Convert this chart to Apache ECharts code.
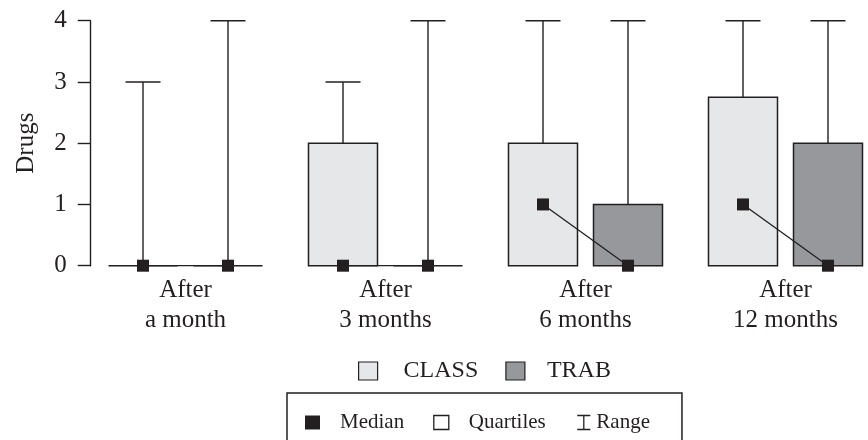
<!DOCTYPE html>
<html>
<head>
<meta charset="utf-8">
<script src="https://cdn.jsdelivr.net/npm/echarts@6/dist/echarts.min.js"></script>
<style>
  html, body { margin: 0; padding: 0; background: #fff; }
  #drugs-chart { width: 868px; height: 440px; }
</style>
</head>
<body>
<div id="drugs-chart"></div>
<script>
var categories = ['After\na month', 'After\n3 months', 'After\n6 months', 'After\n12 months'];
var yTicks = [0, 1, 2, 3, 4];

/* CLASS: quartiles, median and range per period */
var class_q1 = [0, 0, 0, 0];
var class_median = [0, 0, 1, 1];
var class_q3 = [0, 2, 2, 2.75];
var class_max = [3, 3, 4, 4];

/* TRAB */
var trab_q1 = [0, 0, 0, 0];
var trab_median = [0, 0, 0, 0];
var trab_q3 = [0, 0, 1, 2];
var trab_max = [4, 4, 4, 4];

var ink = '#231f20';
var font = "'Liberation Serif', 'Times New Roman', serif";
var class_color = '#e6e7e8';
var trab_color = '#97989b';

var drugs_chart = echarts.init(document.getElementById('drugs-chart'));

function build_rows(q1, q3, max)
{
    return categories.map(function (c, i) { return [i, q1[i], q3[i], max[i]]; });
}

function box_renderer(shift, fill)
{
    return function (params, api) {
        var i = api.value(0);
        var band = api.size([1, 0])[0];
        var cx = api.coord([i, 0])[0] + shift * band;
        var yq1 = api.coord([i, api.value(1)])[1];
        var yq3 = api.coord([i, api.value(2)])[1];
        var ymax = api.coord([i, api.value(3)])[1];
        var w = band * 0.345;
        var cap = band * 0.175;
        return {
            type: 'group',
            children: [
                { type: 'line', shape: { x1: cx, y1: yq3, x2: cx, y2: ymax },
                  style: { stroke: ink, lineWidth: 1.4 } },
                { type: 'line', shape: { x1: cx - cap / 2, y1: ymax, x2: cx + cap / 2, y2: ymax },
                  style: { stroke: ink, lineWidth: 1.4 } },
                { type: 'rect', shape: { x: cx - w / 2, y: yq3, width: w, height: yq1 - yq3 },
                  style: { fill: fill, stroke: ink, lineWidth: 1.5 } }
            ]
        };
    };
}

function median_renderer(params, api)
{
    var i = api.value(0);
    var band = api.size([1, 0])[0];
    var c = api.coord([i, api.value(1)]);
    var t = api.coord([i, api.value(2)]);
    var x1 = c[0] - 0.2125 * band;
    var x2 = t[0] + 0.2125 * band;
    var s = 12;
    return {
        type: 'group',
        children: [
            { type: 'line', shape: { x1: x1, y1: c[1], x2: x2, y2: t[1] },
              style: { stroke: ink, lineWidth: 1.3 } },
            { type: 'rect', shape: { x: x1 - s / 2, y: c[1] - s / 2, width: s, height: s },
              style: { fill: ink } },
            { type: 'rect', shape: { x: x2 - s / 2, y: t[1] - s / 2, width: s, height: s },
              style: { fill: ink } }
        ]
    };
}

var median_rows = categories.map(function (c, i) { return [i, class_median[i], trab_median[i]]; });

var echarts_options = {
    animation: false,
    textStyle: { fontFamily: font, color: ink },
    grid: {
        left: 85.5,
        width: 800,
        top: 20.7,
        height: 245,
        outerBoundsMode: 'none',
        containLabel: false
    },
    legend: [
        {
            left: 358,
            top: 359,
            padding: 0,
            itemWidth: 19,
            itemHeight: 18,
            itemGap: 27,
            selectedMode: false,
            textStyle: { fontFamily: font, fontSize: 24, color: ink },
            data: [
                { name: 'CLASS', icon: 'rect',
                  itemStyle: { color: class_color, borderColor: ink, borderWidth: 1.2 },
                  textStyle: { padding: [0, 0, 0, 21] } },
                { name: 'TRAB', icon: 'rect',
                  itemStyle: { color: trab_color, borderColor: ink, borderWidth: 1.2 },
                  textStyle: { padding: [0, 0, 0, 17] } }
            ]
        },
        {
            left: 287,
            top: 393,
            borderColor: ink,
            borderWidth: 1.5,
            borderRadius: 0,
            padding: [19, 32, 40, 18],
            itemWidth: 15,
            itemHeight: 14,
            itemGap: 29,
            selectedMode: false,
            textStyle: { fontFamily: font, fontSize: 21, color: ink },
            data: [
                { name: 'Median', icon: 'rect',
                  itemStyle: { color: ink, borderWidth: 0 },
                  textStyle: { padding: [0, 0, 0, 15] } },
                { name: 'Quartiles', icon: 'rect',
                  itemStyle: { color: '#fff', borderColor: ink, borderWidth: 1.3 },
                  textStyle: { padding: [0, 0, 0, 15] } },
                { name: 'Range', icon: 'path://M0,0 L14,0 M7,0 L7,15 M0,15 L14,15',
                  itemStyle: { color: 'none', borderColor: ink, borderWidth: 1.3 },
                  textStyle: { padding: [0, 0, 0, 0] } }
            ]
        }
    ],
    xAxis: {
        type: 'category',
        data: categories,
        axisLine: { show: false },
        axisTick: { show: false },
        axisLabel: {
            margin: 10,
            fontFamily: font,
            fontSize: 25,
            lineHeight: 30,
            color: ink
        }
    },
    yAxis: {
        type: 'value',
        min: 0,
        max: 4,
        interval: 1,
        offset: -5.2,
        name: 'Drugs',
        nameLocation: 'middle',
        nameRotate: 90,
        nameGap: 52,
        nameTextStyle: { fontFamily: font, fontSize: 25, color: ink },
        axisLine: { show: true, lineStyle: { color: ink, width: 1.4 } },
        axisTick: { show: true, length: 13, lineStyle: { color: ink, width: 1.4 } },
        axisLabel: {
            margin: 24,
            fontFamily: font,
            fontSize: 25,
            color: ink,
            formatter: function (v) { return yTicks.indexOf(v) >= 0 ? String(v) : ''; }
        },
        splitLine: { show: false }
    },
    series: [
        {
            name: 'CLASS',
            type: 'custom',
            itemStyle: { color: class_color },
            renderItem: box_renderer(-0.2125, class_color),
            encode: { x: 0, y: [1, 2, 3] },
            data: build_rows(class_q1, class_q3, class_max)
        },
        {
            name: 'TRAB',
            type: 'custom',
            itemStyle: { color: trab_color },
            renderItem: box_renderer(0.2125, trab_color),
            encode: { x: 0, y: [1, 2, 3] },
            data: build_rows(trab_q1, trab_q3, trab_max)
        },
        {
            name: 'Median',
            type: 'custom',
            itemStyle: { color: ink },
            renderItem: median_renderer,
            encode: { x: 0, y: [1, 2] },
            data: median_rows
        },
        { name: 'Quartiles', type: 'custom', renderItem: function () { return null; }, data: [] },
        { name: 'Range', type: 'custom', renderItem: function () { return null; }, data: [] }
    ]
};

drugs_chart.setOption(echarts_options);
</script>
</body>
</html>
